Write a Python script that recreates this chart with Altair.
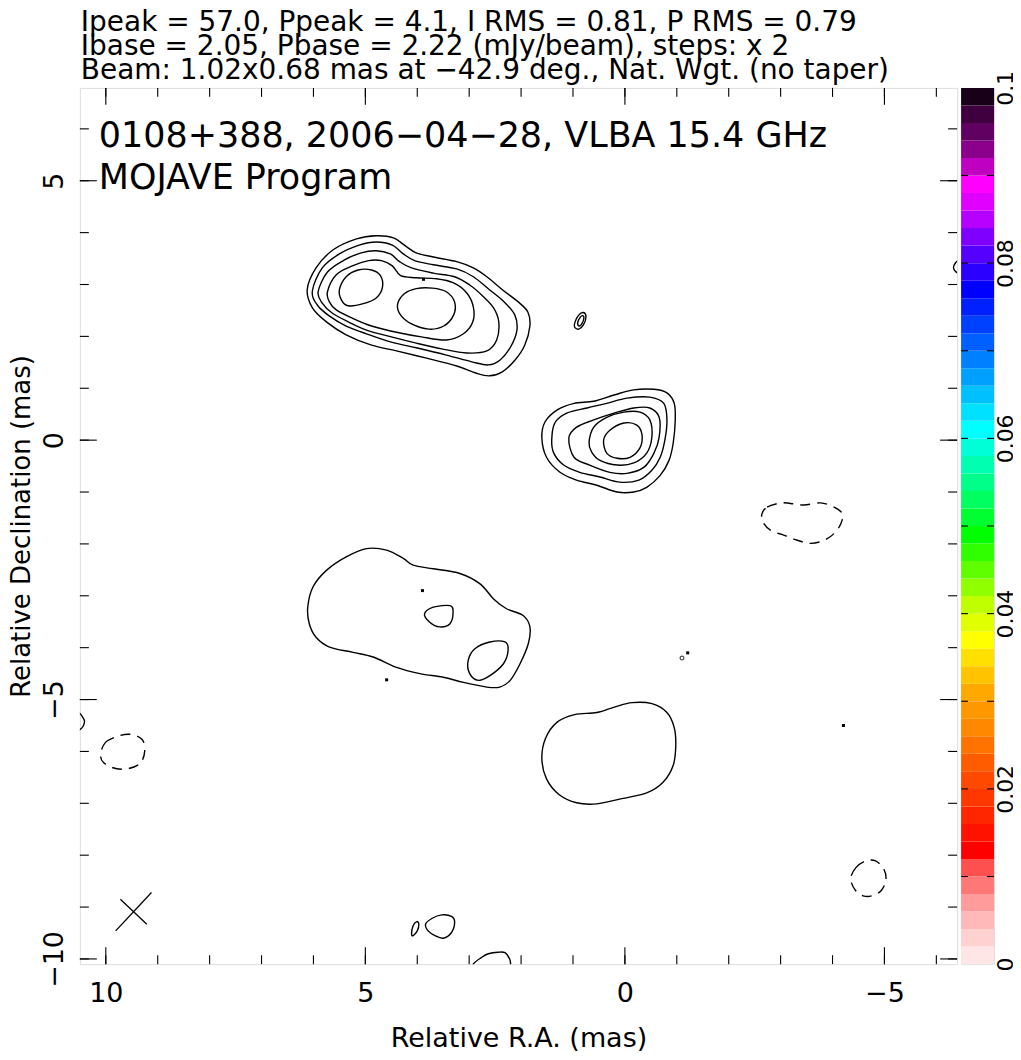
import altair as alt
import pandas as pd

FONT = "DejaVu Sans"

# ---------------- contour paths (Relative R.A., Relative Dec in mas) ----------------
A1 = [(6.12,2.90),(5.95,3.32),(5.62,3.67),(5.17,3.88),(4.79,3.94),(4.46,3.90),(4.21,3.73),(4.02,3.61),(3.69,3.53),(3.24,3.44),(2.92,3.32),(2.66,3.15),(2.36,2.90),(2.05,2.66),(1.87,2.47),(1.83,2.20),(1.93,1.83),(2.12,1.54),(2.37,1.31),(2.61,1.24),(2.86,1.29),(3.24,1.43),(3.82,1.58),(4.40,1.72),(4.88,1.83),(5.37,2.03),(5.75,2.28),(6.02,2.55)]
A2 = [(6.02,2.88),(5.83,3.32),(5.50,3.59),(5.12,3.76),(4.79,3.82),(4.48,3.76),(4.27,3.59),(4.05,3.46),(3.69,3.38),(3.24,3.30),(2.92,3.15),(2.61,2.90),(2.32,2.66),(2.12,2.41),(2.08,2.12),(2.20,1.80),(2.41,1.54),(2.63,1.45),(2.95,1.51),(3.44,1.64),(4.02,1.78),(4.50,1.89),(4.98,2.05),(5.37,2.20),(5.69,2.39),(5.93,2.61)]
A3 = [(5.91,2.86),(5.73,3.24),(5.41,3.47),(5.08,3.61),(4.79,3.65),(4.52,3.59),(4.34,3.44),(4.11,3.32),(3.69,3.22),(3.28,3.15),(2.99,2.99),(2.74,2.78),(2.53,2.55),(2.43,2.28),(2.47,1.93),(2.66,1.72),(3.05,1.68),(3.53,1.76),(4.02,1.87),(4.50,1.99),(4.98,2.12),(5.33,2.28),(5.64,2.45),(5.83,2.64)]
A4 = [(5.73,2.86),(5.56,3.19),(5.25,3.36),(4.94,3.46),(4.69,3.46),(4.48,3.36),(4.32,3.17),(4.02,3.13),(3.63,3.11),(3.30,3.03),(3.05,2.84),(2.92,2.57),(2.93,2.28),(3.11,2.05),(3.44,1.93),(3.92,1.99),(4.40,2.08),(4.88,2.20),(5.27,2.36),(5.56,2.51),(5.69,2.66)]
A5a = [(5.50,2.90),(5.37,3.15),(5.14,3.28),(4.88,3.28),(4.71,3.17),(4.67,2.95),(4.79,2.74),(5.04,2.63),(5.33,2.59),(5.46,2.70)]
A5b = [(4.38,2.61),(4.25,2.82),(4.02,2.92),(3.71,2.93),(3.44,2.86),(3.28,2.66),(3.30,2.41),(3.49,2.20),(3.78,2.14),(4.11,2.24),(4.32,2.41)]
B1 = [(1.60,0.04),(1.54,0.35),(1.31,0.58),(0.98,0.71),(0.60,0.75),(0.21,0.87),(-0.17,0.97),(-0.56,0.98),(-0.81,0.91),(-0.95,0.71),(-0.97,0.39),(-0.93,-0.06),(-0.85,-0.39),(-0.68,-0.68),(-0.42,-0.91),(-0.17,-1.00),(0.15,-1.00),(0.54,-0.87),(0.93,-0.77),(1.25,-0.62),(1.51,-0.33)]
B2 = [(1.41,0.00),(1.35,0.33),(1.12,0.52),(0.73,0.62),(0.35,0.71),(-0.04,0.81),(-0.48,0.83),(-0.75,0.71),(-0.81,0.39),(-0.77,0.00),(-0.68,-0.33),(-0.52,-0.58),(-0.27,-0.77),(0.10,-0.81),(0.48,-0.71),(0.87,-0.62),(1.18,-0.48),(1.37,-0.25)]
B3 = [(1.08,0.04),(0.93,0.25),(0.60,0.39),(0.21,0.52),(-0.17,0.62),(-0.48,0.62),(-0.66,0.44),(-0.66,0.06),(-0.56,-0.25),(-0.37,-0.52),(-0.04,-0.64),(0.29,-0.62),(0.68,-0.48),(0.98,-0.33)]
B4 = [(0.69,-0.04),(0.60,0.25),(0.35,0.44),(0.02,0.54),(-0.29,0.54),(-0.48,0.39),(-0.52,0.06),(-0.42,-0.25),(-0.17,-0.44),(0.15,-0.48),(0.48,-0.39),(0.64,-0.23)]
B5 = [(0.41,0.00),(0.29,0.19),(0.02,0.33),(-0.23,0.29),(-0.33,0.10),(-0.29,-0.15),(-0.10,-0.33),(0.15,-0.35),(0.35,-0.25)]
C1 = [(6.11,-3.22),(6.01,-2.83),(5.75,-2.51),(5.37,-2.25),(4.98,-2.09),(4.59,-2.12),(4.27,-2.28),(4.08,-2.41),(3.69,-2.48),(3.18,-2.57),(2.79,-2.77),(2.53,-3.06),(2.28,-3.25),(1.96,-3.38),(1.83,-3.60),(1.86,-3.92),(2.02,-4.31),(2.21,-4.63),(2.41,-4.76),(2.66,-4.76),(3.11,-4.67),(3.50,-4.57),(3.95,-4.50),(4.40,-4.38),(4.85,-4.18),(5.24,-4.09),(5.69,-3.99),(5.95,-3.80),(6.08,-3.54)]
C2 = [(3.86,-3.35),(3.69,-3.22),(3.37,-3.19),(3.31,-3.31),(3.37,-3.54),(3.57,-3.60),(3.76,-3.51)]
C3 = [(3.02,-4.25),(2.89,-4.02),(2.60,-3.89),(2.31,-3.89),(2.25,-4.05),(2.34,-4.31),(2.60,-4.54),(2.82,-4.63),(2.99,-4.50)]
D1 = [(1.60,-6.14),(1.53,-5.75),(1.31,-5.44),(0.97,-5.29),(0.54,-5.25),(0.19,-5.14),(-0.14,-5.06),(-0.52,-5.08),(-0.81,-5.25),(-0.95,-5.54),(-0.98,-5.89),(-0.93,-6.27),(-0.73,-6.60),(-0.42,-6.80),(0.06,-6.91),(0.54,-7.01),(0.93,-6.99),(1.27,-6.83),(1.51,-6.53)]
F1 = [(0.96,2.28),(0.89,2.41),(0.80,2.46),(0.75,2.38),(0.80,2.22),(0.89,2.14),(0.97,2.18)]
F2 = [(0.91,2.26),(0.86,2.37),(0.81,2.40),(0.79,2.35),(0.83,2.24),(0.88,2.20)]
G1 = [(4.11,-9.52),(4.08,-9.36),(4.01,-9.28),(3.97,-9.33),(4.00,-9.46),(4.08,-9.55)]
G2 = [(3.84,-9.33),(3.72,-9.22),(3.53,-9.15),(3.34,-9.18),(3.28,-9.29),(3.34,-9.49),(3.50,-9.60),(3.66,-9.55),(3.79,-9.46)]

# contours cut by the frame
G3 = [(2.97,-10.30),(2.92,-10.10),(2.76,-9.97),(2.63,-9.90),(2.44,-9.87),(2.31,-9.88),(2.22,-10.00),(2.20,-10.12),(2.19,-10.30)]
L1 = [(10.60,-5.22),(10.50,-5.27),(10.44,-5.35),(10.41,-5.42),(10.44,-5.52),(10.50,-5.58),(10.60,-5.63)]
R1 = [(-6.50,3.52),(-6.44,3.48),(-6.37,3.42),(-6.33,3.33),(-6.37,3.25),(-6.44,3.21),(-6.50,3.19)]

# negative (dashed) contours
E1 = [(-2.64,-1.42),(-2.74,-1.29),(-3.00,-1.21),(-3.19,-1.22),(-3.45,-1.25),(-3.77,-1.21),(-4.03,-1.29),(-4.19,-1.42),(-4.16,-1.61),(-4.03,-1.80),(-3.84,-1.93),(-3.58,-1.99),(-3.32,-1.93),(-3.06,-1.83),(-2.81,-1.74),(-2.66,-1.58)]
E2 = [(10.10,-6.06),(10.01,-5.83),(9.78,-5.71),(9.53,-5.67),(9.30,-5.77),(9.25,-5.99),(9.33,-6.22),(9.56,-6.33),(9.81,-6.33),(10.04,-6.22)]
E3 = [(-4.35,-8.46),(-4.45,-8.24),(-4.64,-8.11),(-4.83,-8.11),(-4.99,-8.27),(-5.03,-8.49),(-4.93,-8.69),(-4.77,-8.78),(-4.61,-8.79),(-4.45,-8.69)]

# beam cross (major / minor axis)
beam_major = [(9.81,-9.46),(9.12,-8.72)]
beam_minor = [(9.72,-8.85),(9.21,-9.33)]

# single-pixel specks
dot_ra = [3.88, 3.90, 4.59, -1.21, -4.21]
dot_dec = [3.10, -2.90, -4.62, -4.10, -5.50]
ring_ra = [-1.10]
ring_dec = [-4.20]

# axes
x_major = [10, 5, 0, -5]
x_minor = [10, 9, 8, 7, 6, 5, 4, 3, 2, 1, 0, -1, -2, -3, -4, -5, -6]
y_major = [5, 0, -5, -10]
y_minor = [6, 5, 4, 3, 2, 1, 0, -1, -2, -3, -4, -5, -6, -7, -8, -9, -10]

# colour bar
cb_stops = [0.000,0.004,0.008,0.011,0.013,0.018,0.022,0.026,0.031,0.034,0.037,0.041,0.045,0.049,0.053,0.057,0.061,0.065,0.069,0.073,0.077,0.080,0.083,0.086,0.089,0.092,0.095,0.098,0.100]
cb_colors = ["#fff0f0","#ffc8c8","#ff8c8c","#ff5050","#ff0000","#ff3000","#ff5000","#ff8000","#ffa800","#ffd000","#ffff00","#c0ff00","#60ff00","#00ff00","#00ff60","#00ffb0","#00ffff","#00c0ff","#0080ff","#0040ff","#0000ff","#4000ff","#8000ff","#d000ff","#ff00ff","#a000a0","#600060","#300030","#000000"]
cb_bands = [0.000,0.002,0.004,0.006,0.008,0.010,0.012,0.014,0.016,0.018,0.020,0.022,0.024,0.026,0.028,0.030,0.032,0.034,0.036,0.038,0.040,0.042,0.044,0.046,0.048,0.050,0.052,0.054,0.056,0.058,0.060,0.062,0.064,0.066,0.068,0.070,0.072,0.074,0.076,0.078,0.080,0.082,0.084,0.086,0.088,0.090,0.092,0.094,0.096,0.098]
cb_ticks = [0.01,0.02,0.03,0.04,0.05,0.06,0.07,0.08,0.09]
cb_labels = [0, 0.02, 0.04, 0.06, 0.08, 0.1]

title_lines = ["Ipeak = 57.0, Ppeak = 4.1, I RMS = 0.81, P RMS = 0.79",
               "Ibase = 2.05, Pbase = 2.22 (mJy/beam), steps: x 2",
               "Beam: 1.02x0.68 mas at \u221242.9 deg., Nat. Wgt. (no taper)"]
map_label = ["0108+388, 2006\u221204\u221228, VLBA 15.4 GHz"]
program_label = ["MOJAVE Program"]

# ---------------- build tables ----------------
def paths(d):
    rows = []
    for name, pts in d.items():
        for i, (ra, dec) in enumerate(pts):
            rows.append({"c": name, "i": i, "ra": ra, "dec": dec})
    return pd.DataFrame(rows)

closed_solid = paths({"A1": A1, "A2": A2, "A3": A3, "A4": A4, "A5a": A5a, "A5b": A5b,
                      "B1": B1, "B2": B2, "B3": B3, "B4": B4, "B5": B5,
                      "C1": C1, "C2": C2, "C3": C3, "D1": D1, "F1": F1, "F2": F2,
                      "G1": G1, "G2": G2})
closed_dashed = paths({"E1": E1, "E2": E2, "E3": E3})
open_solid = paths({"G3": G3, "L1": L1, "R1": R1})
beam = paths({"maj": beam_major, "min": beam_minor})
dots = pd.DataFrame({"ra": dot_ra, "dec": dot_dec})
rings = pd.DataFrame({"ra": ring_ra, "dec": ring_dec})

W, H = 879, 878
MAJ, MIN = 17, 9

xs = alt.Scale(domain=[-6.40, 10.50], reverse=True, nice=False, zero=False)
ys = alt.Scale(domain=[-10.10, 6.79], nice=False, zero=False)
x_axis = alt.Axis(values=x_major, title="Relative R.A. (mas)", ticks=False, domain=False, grid=False,
                  labelFlush=False, labelFontSize=27, titleFontSize=27, labelFont=FONT, titleFont=FONT,
                  labelColor="black", titleColor="black", titleFontWeight="normal",
                  labelPadding=16, titlePadding=20)
y_axis = alt.Axis(values=y_major, title="Relative Declination (mas)", ticks=False, domain=False, grid=False,
                  labelAngle=270, labelAlign="center", labelBaseline="bottom", labelFlush=False,
                  labelFontSize=27, titleFontSize=26, labelFont=FONT, titleFont=FONT,
                  labelColor="black", titleColor="black", titleFontWeight="normal",
                  labelPadding=11, titlePadding=6)
X = alt.X("ra:Q", scale=xs, axis=x_axis)
Y = alt.Y("dec:Q", scale=ys, axis=y_axis)

solid = alt.Chart(closed_solid).mark_line(interpolate="cardinal-closed", color="black",
                                          strokeWidth=1.4, clip=True).encode(
    x=X, y=Y, detail="c:N", order="i:Q")
dashed = alt.Chart(closed_dashed).mark_line(interpolate="cardinal-closed", color="black",
                                            strokeWidth=1.4, strokeDash=[10, 7], clip=True).encode(
    x=X, y=Y, detail="c:N", order="i:Q")
opened = alt.Chart(open_solid).mark_line(interpolate="cardinal", color="black",
                                         strokeWidth=1.4, clip=True).encode(
    x=X, y=Y, detail="c:N", order="i:Q")
beam_l = alt.Chart(beam).mark_line(color="black", strokeWidth=1.3).encode(
    x=X, y=Y, detail="c:N", order="i:Q")
dots_l = alt.Chart(dots).mark_square(color="black", size=9, opacity=1).encode(x=X, y=Y)
rings_l = alt.Chart(rings).mark_point(color="black", size=14, strokeWidth=1.2, filled=False).encode(x=X, y=Y)

xt_min = pd.DataFrame({"ra": x_minor})
xt_maj = pd.DataFrame({"ra": x_major})
yt_min = pd.DataFrame({"dec": y_minor})
yt_maj = pd.DataFrame({"dec": y_major})

def xticks(df, L):
    b = alt.Chart(df).mark_rule(color="black", strokeWidth=1.1).encode(x=X, y=alt.value(H), y2=alt.value(H - L))
    t = alt.Chart(df).mark_rule(color="black", strokeWidth=1.1).encode(x=X, y=alt.value(0), y2=alt.value(L))
    return [b, t]

def yticks(df, L):
    l = alt.Chart(df).mark_rule(color="black", strokeWidth=1.1).encode(y=Y, x=alt.value(0), x2=alt.value(L))
    r = alt.Chart(df).mark_rule(color="black", strokeWidth=1.1).encode(y=Y, x=alt.value(W - L), x2=alt.value(W))
    return [l, r]

def text_layer(lines, size, px, py):
    return alt.Chart(pd.DataFrame({"t": lines})).mark_text(
        align="left", baseline="alphabetic", fontSize=size, font=FONT, color="black").encode(
        x=alt.value(px), y=alt.value(py), text="t:N")

head = [text_layer([title_lines[0]], 28, 1, -57),
        text_layer([title_lines[1]], 28, 1, -33),
        text_layer([title_lines[2]], 28, 1, -9)]
lab1 = text_layer(map_label, 35, 19, 59)
lab2 = text_layer(program_label, 35, 19, 101)

main = alt.layer(
    solid, dashed, opened, beam_l, dots_l, rings_l,
    *xticks(xt_min, MIN), *xticks(xt_maj, MAJ), *yticks(yt_min, MIN), *yticks(yt_maj, MAJ),
    lab1, lab2, *head,
).properties(width=W, height=H)

# ---------------- colour bar ----------------
cb_df = pd.DataFrame({"lo": cb_bands, "hi": cb_bands[1:] + [0.1]})
cb_df["mid"] = (cb_df["lo"] + cb_df["hi"]) / 2
cys = alt.Scale(domain=[0, 0.1], nice=False, zero=False)
cb_axis = alt.Axis(orient="right", values=cb_labels, format="~g", labelAngle=270, labelAlign="center",
                   labelBaseline="top", labelPadding=1, ticks=False, domain=False, grid=False, title=None,
                   labelFontSize=22, labelFont=FONT, labelColor="black", labelFlush=False, labelOverlap=False)
CW = 33
bars = alt.Chart(cb_df).mark_rect(strokeWidth=0).encode(
    y=alt.Y("lo:Q", scale=cys, axis=cb_axis), y2="hi:Q",
    x=alt.value(0), x2=alt.value(CW),
    color=alt.Color("mid:Q", scale=alt.Scale(domain=cb_stops, range=cb_colors, interpolate="rgb"), legend=None))
cbt = pd.DataFrame({"lo": cb_ticks})
cb_l = alt.Chart(cbt).mark_rule(color="black", strokeWidth=1.1).encode(
    y=alt.Y("lo:Q", scale=cys, axis=cb_axis), x=alt.value(0), x2=alt.value(7))
cb_r = alt.Chart(cbt).mark_rule(color="black", strokeWidth=1.1).encode(
    y=alt.Y("lo:Q", scale=cys, axis=cb_axis), x=alt.value(CW - 7), x2=alt.value(CW))
cbar = alt.layer(bars, cb_l, cb_r).properties(width=CW, height=H)

chart = alt.hconcat(main, cbar, spacing=0).properties(
    padding={"left": 0, "top": -1, "right": -4, "bottom": -3}
).configure_view(stroke="black", strokeWidth=1.2).configure(font=FONT)

chart.save("out.html", embed_options={"renderer": "svg", "actions": False})
